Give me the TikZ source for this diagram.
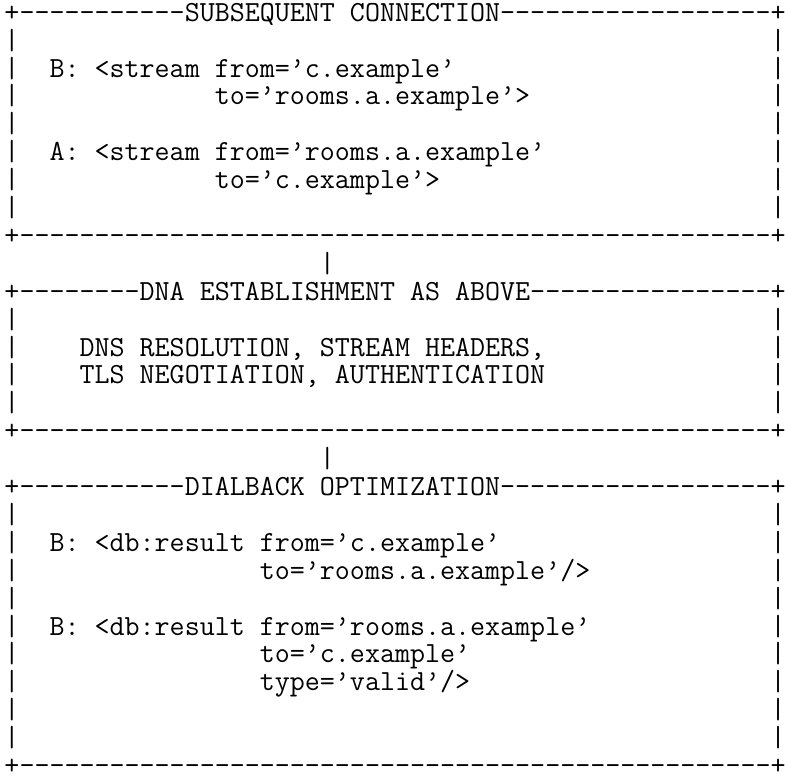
\documentclass[tikz,border=0pt]{standalone}

\ExplSyntaxOn
\NewDocumentCommand \dashes { m } { \prg_replicate:nn {#1} { -{} } }
\ExplSyntaxOff
\newcommand{\gap}[1]{\hspace*{#1\fontcharwd\font`\x}}
\newcommand{\asciifont}{\fontsize{29.1667}{28}\selectfont\ttfamily\frenchspacing}

\begin{document}
\begin{tikzpicture}[x=15pt, y=-27.9pt,
		asciirow/.style={anchor=base west, inner sep=0pt, outer sep=0pt, font=\asciifont}]
		\fill[white]	(-0.8,-0.502) rectangle (51.533,27.563);
		\useasboundingbox (-0.8,-0.502) rectangle (51.533,27.563);

		% subsequent connection
		\node[asciirow] (sub0) at (-0.5, 0.26) {+\dashes{11}SUBSEQUENT CONNECTION\dashes{18}+};
		\node[asciirow] (sub1) at (-0.5, 1.26) {|\gap{50}|};
		\node[asciirow] (sub2) at (-0.5, 2.26) {|\gap{2}B: <stream from=’c.example’\gap{21}|};
		\node[asciirow] (sub3) at (-0.5, 3.26) {|\gap{13}to=’rooms.a.example’>\gap{16}|};
		\node[asciirow] (sub4) at (-0.5, 4.26) {|\gap{50}|};
		\node[asciirow] (sub5) at (-0.5, 5.26) {|\gap{2}A: <stream from=’rooms.a.example’\gap{15}|};
		\node[asciirow] (sub6) at (-0.5, 6.26) {|\gap{13}to=’c.example’>\gap{22}|};
		\node[asciirow] (sub7) at (-0.5, 7.26) {|\gap{50}|};
		\node[asciirow] (sub8) at (-0.5, 8.26) {+\dashes{50}+};

		\node[asciirow] (link1) at (-0.5, 9.26) {\gap{21}|};

		% dna establishment
		\node[asciirow] (dna0) at (-0.5, 10.26) {+\dashes{8}DNA ESTABLISHMENT AS ABOVE\dashes{16}+};
		\node[asciirow] (dna1) at (-0.5, 11.26) {|\gap{50}|};
		\node[asciirow] (dna2) at (-0.5, 12.26) {|\gap{4}DNS RESOLUTION, STREAM HEADERS,\gap{15}|};
		\node[asciirow] (dna3) at (-0.5, 13.26) {|\gap{4}TLS NEGOTIATION, AUTHENTICATION\gap{15}|};
		\node[asciirow] (dna4) at (-0.5, 14.26) {|\gap{50}|};
		\node[asciirow] (dna5) at (-0.5, 15.26) {+\dashes{50}+};

		\node[asciirow] (link2) at (-0.5, 16.26) {\gap{21}|};

		% dialback optimization
		\node[asciirow] (db0) at (-0.5, 17.26) {+\dashes{11}DIALBACK OPTIMIZATION\dashes{18}+};
		\node[asciirow] (db1) at (-0.5, 18.26) {|\gap{50}|};
		\node[asciirow] (db2) at (-0.5, 19.26) {|\gap{2}B: <db:result from=’c.example’\gap{18}|};
		\node[asciirow] (db3) at (-0.5, 20.26) {|\gap{16}to=’rooms.a.example’/>\gap{12}|};
		\node[asciirow] (db4) at (-0.5, 21.26) {|\gap{50}|};
		\node[asciirow] (db5) at (-0.5, 22.26) {|\gap{2}B: <db:result from=’rooms.a.example’\gap{12}|};
		\node[asciirow] (db6) at (-0.5, 23.26) {|\gap{16}to=’c.example’\gap{20}|};
		\node[asciirow] (db7) at (-0.5, 24.26) {|\gap{16}type=’valid’/>\gap{20}|};
		\node[asciirow] (db8) at (-0.5, 25.26) {|\gap{50}|};
		\node[asciirow] (db9) at (-0.5, 26.26) {|\gap{50}|};
		\node[asciirow] (db10) at (-0.5, 27.26) {+\dashes{50}+};
	\end{tikzpicture}
\end{document}
